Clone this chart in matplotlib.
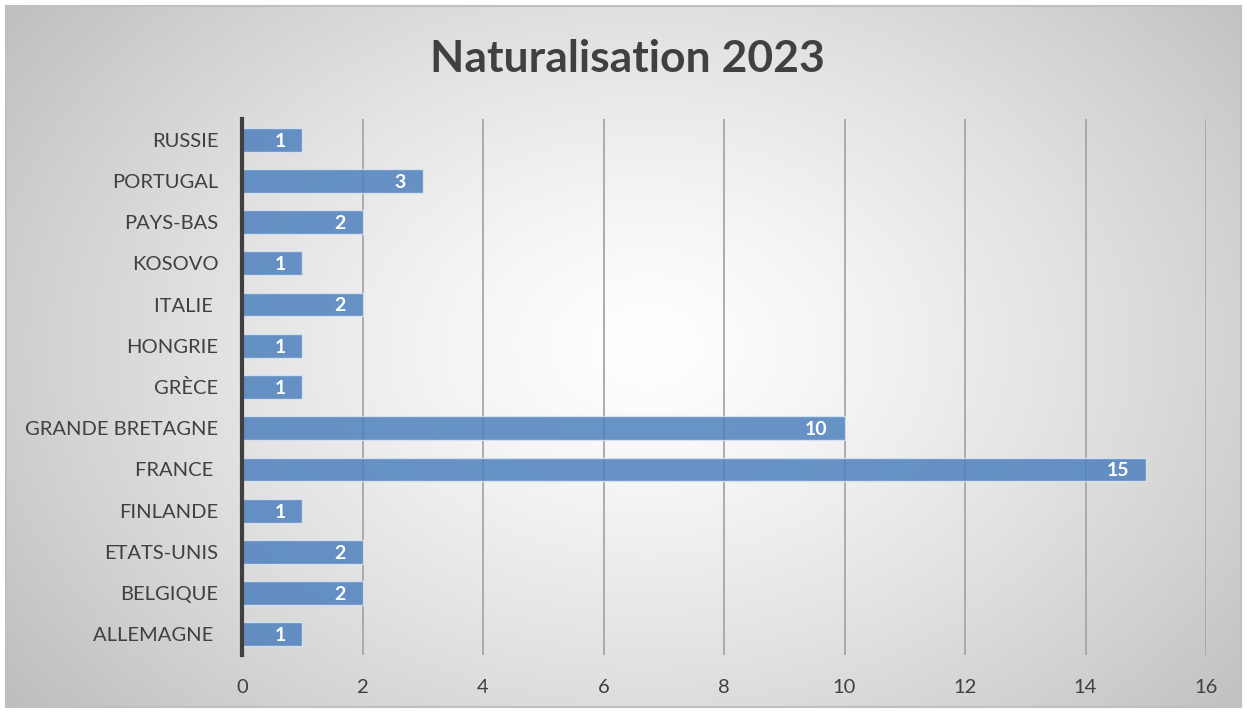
import numpy as np
import matplotlib
matplotlib.use("Agg")
import matplotlib.pyplot as plt

plt.rcParams['font.family'] = ['Lato', 'DejaVu Sans']

# data, bottom to top
pays = ["ALLEMAGNE ", "BELGIQUE", "ETATS-UNIS", "FINLANDE", "FRANCE ",
        "GRANDE BRETAGNE", "GRÈCE", "HONGRIE", "ITALIE ", "KOSOVO",
        "PAYS-BAS", "PORTUGAL", "RUSSIE"]
nombres = [1, 2, 2, 1, 15, 10, 1, 1, 2, 1, 2, 3, 1]
x_ticks = [0, 2, 4, 6, 8, 10, 12, 14, 16]

W, H = 1247, 713
fig = plt.figure(figsize=(W / 100, H / 100), dpi=100)
fig.patch.set_facecolor("white")

# radial gradient background
bg = fig.add_axes([6 / W, 6 / H, 1235 / W, 701 / H])
yy, xx = np.mgrid[0:701, 0:1235]
r = np.sqrt(((xx - 640) / 760.0) ** 2 + ((yy - 340) / 560.0) ** 2)
shade = 1.0 - 0.24 * np.clip(r, 0, 1.2) ** 1.3
img = np.dstack([shade, shade, shade])
bg.imshow(img, aspect="auto", interpolation="bilinear")
bg.set_xticks([])
bg.set_yticks([])
for s in bg.spines.values():
    s.set_color("#c0c0c0")
    s.set_linewidth(1.5)

# main plot
ax = fig.add_axes([242 / W, (H - 655) / H, (1206 - 242) / W, (655 - 119) / H])
ax.patch.set_alpha(0)
y = np.arange(len(pays))
bars = ax.barh(y, nombres, height=0.58, color="#4f81bd", alpha=0.85,
               edgecolor="#dce6f2", linewidth=1.0, zorder=3)
ax.set_xlim(0, 16)
ax.set_ylim(-0.5, len(pays) - 0.5)
ax.set_xticks(x_ticks)
ax.set_yticks(y)
ax.set_yticklabels(pays)
ax.tick_params(axis="both", length=0, labelsize=14.5, labelcolor="#404040")
ax.tick_params(axis="y", pad=17)
ax.tick_params(axis="x", pad=17)
ax.grid(axis="x", color="#a6a6a6", linewidth=1.3, zorder=1)
ax.set_axisbelow(True)
for side in ["top", "right", "bottom"]:
    ax.spines[side].set_visible(False)
ax.spines["left"].set_color("#404040")
ax.spines["left"].set_linewidth(3)
ax.spines["left"].set_zorder(4)

for b, v in zip(bars, nombres):
    ax.annotate(str(v), (v, b.get_y() + b.get_height() / 2),
                xytext=(-12, -1), textcoords="offset points",
                ha="right", va="center", color="white",
                fontsize=14, fontweight="bold", zorder=5)

fig.text(627 / W, 1 - 59 / H, "Naturalisation 2023", ha="center", va="center",
         fontsize=32, fontweight="bold", color="#404040")

fig.savefig("out.png", dpi=100)
